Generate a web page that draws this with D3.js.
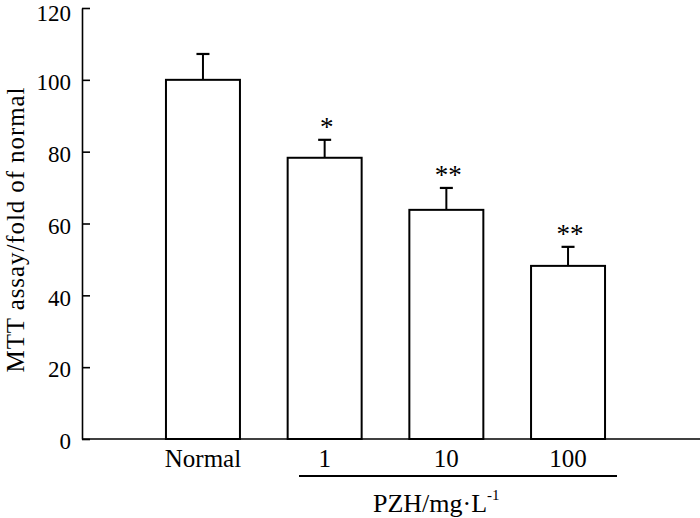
<!DOCTYPE html>
<html><head><meta charset="utf-8">
<script src="https://cdn.jsdelivr.net/npm/d3@7"></script>
<style>body{margin:0;background:#fff}svg{display:block}text{font-family:"Liberation Serif","Times New Roman",serif;fill:#000}</style>
</head><body><svg id="c" width="700" height="518"></svg>
<script>
const categories = ["Normal", "1", "10", "100"];
const means = [100, 78.3, 63.8, 48.2];
const errors = [7.2, 5.0, 6.1, 5.3];
const stars = ["", "*", "**", "**"];
const yTicks = [0, 20, 40, 60, 80, 100, 120];
const yLabel = "MTT assay/fold of normal";
const groupLabel = "PZH/mg·L";
const groupSup = "-1";

const svg = d3.select("#c");
const y = d3.scaleLinear().domain([0, 120]).range([439, 8]);
const x = d3.scaleBand().domain(categories).range([82, 689]).paddingInner(0.392).paddingOuter(0.69);

// y axis
const ya = svg.append("g").attr("transform", "translate(82,0)")
  .call(d3.axisRight(y).tickValues(yTicks).tickSize(8).tickSizeOuter(0).tickFormat(d3.format("d")));
ya.select(".domain").attr("stroke", "#000").attr("stroke-width", 1.6);
ya.selectAll(".tick line").attr("stroke", "#000").attr("stroke-width", 1.6);
ya.selectAll(".tick text").attr("x", -11).attr("text-anchor", "end")
  .attr("dy", d => d === 120 ? "0.56em" : "0.42em")
  .style("font-size", "23px").style("font-family", "Liberation Serif");

// x axis baseline
svg.append("line").attr("x1", 82).attr("x2", 700).attr("y1", y(0)).attr("y2", y(0))
  .attr("stroke", "#000").attr("stroke-width", 1.6);

// bars
svg.selectAll("rect.bar").data(categories).join("rect").attr("class", "bar")
  .attr("x", d => x(d)).attr("width", x.bandwidth())
  .attr("y", (d, i) => y(means[i])).attr("height", (d, i) => y(0) - y(means[i]))
  .attr("fill", "#fff").attr("stroke", "#000").attr("stroke-width", 2);

// error bars
const cap = 6.5;
categories.forEach((c, i) => {
  const cx = x(c) + x.bandwidth() / 2;
  svg.append("line").attr("x1", cx).attr("x2", cx).attr("y1", y(means[i])).attr("y2", y(means[i] + errors[i]))
    .attr("stroke", "#000").attr("stroke-width", 2);
  svg.append("line").attr("x1", cx - cap).attr("x2", cx + cap).attr("y1", y(means[i] + errors[i])).attr("y2", y(means[i] + errors[i]))
    .attr("stroke", "#000").attr("stroke-width", 2.2);
  if (stars[i]) svg.append("text").attr("x", cx + 2).attr("y", y(means[i] + errors[i]) - 4)
    .attr("text-anchor", "middle").style("font-size", "27px").text(stars[i]);
  svg.append("text").attr("x", cx).attr("y", 467).attr("text-anchor", "middle")
    .style("font-size", "25px").text(c);
});

// group bracket
svg.append("line").attr("x1", 299).attr("x2", 617).attr("y1", 476).attr("y2", 476)
  .attr("stroke", "#000").attr("stroke-width", 2);
const gt = svg.append("text").attr("x", 373).attr("y", 512).style("font-size", "26px");
gt.append("tspan").text(groupLabel);
gt.append("tspan").attr("dy", -12).style("font-size", "15px").text(groupSup);

// y label
svg.append("text").attr("transform", "translate(24,230) rotate(-90)").attr("text-anchor", "middle")
  .style("font-size", "25px").attr("textLength", 285).attr("lengthAdjust", "spacing").text(yLabel);
</script></body></html>
